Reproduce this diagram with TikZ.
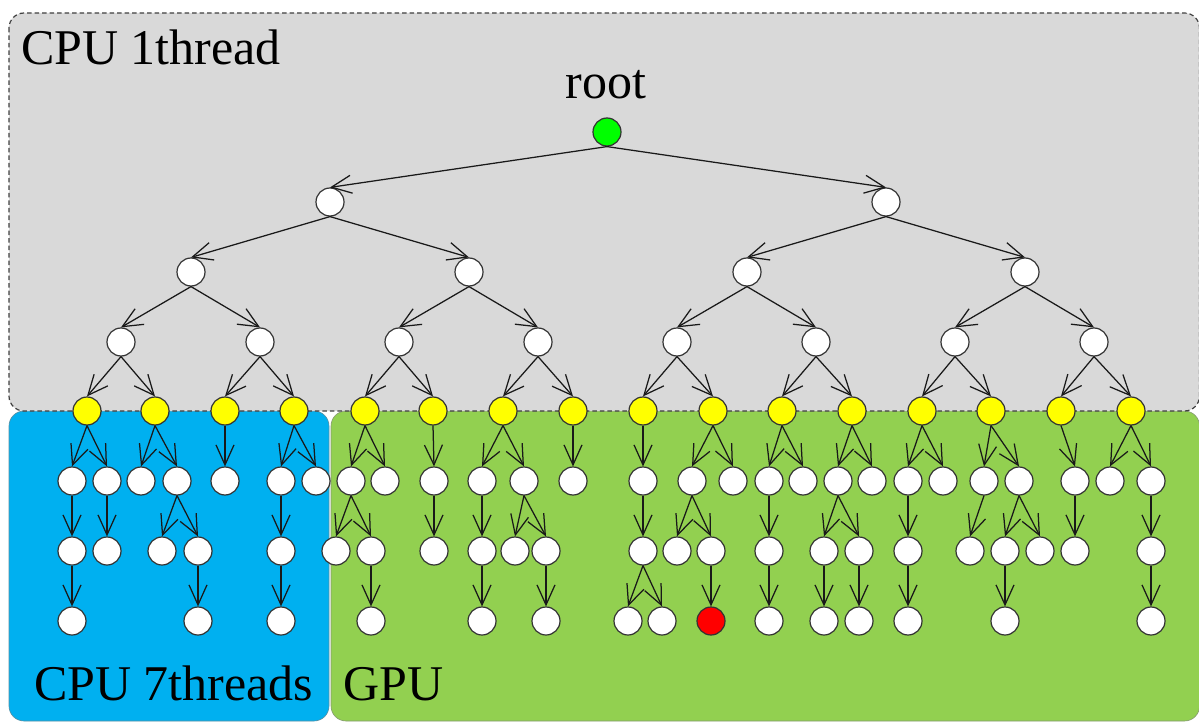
\documentclass[tikz,border=0pt]{standalone}
\usepackage{fontspec}
\setmainfont{Liberation Serif}
\usetikzlibrary{arrows.meta}
\definecolor{panelgray}{HTML}{D9D9D9}
\definecolor{cpublue}{HTML}{00B0F0}
\definecolor{gpugreen}{HTML}{92D050}
\definecolor{rootgreen}{HTML}{00FF00}
\definecolor{leafyellow}{HTML}{FFFF00}
\definecolor{hitred}{HTML}{FF0000}
\definecolor{rim}{HTML}{333333}
\tikzset{
  nd/.style={circle, draw=rim, line width=1.2pt, fill=white, minimum size=28pt, inner sep=0pt},
  yel/.style={nd, fill=leafyellow},
  edge/.style={draw=black!90, line width=1.25pt, -{Straight Barb[length=20pt,width=18pt,line width=1.25pt]}},
  lbl/.style={font=\fontsize{50}{50}\selectfont, inner sep=0pt, text=black},
  panel/.style={rounded corners=15pt}
}
\begin{document}
\begin{tikzpicture}[x=1pt,y=-1pt]
\useasboundingbox (0,0) rectangle (1199,722);

% work regions
\fill[panel, cpublue, draw=gray!70!cpublue, line width=0.6pt] (9,411) rectangle (329,721);
\fill[panel, gpugreen, draw=gray!70!gpugreen, line width=0.6pt] (331,411) rectangle (1199.5,721);
\filldraw[panel, fill=panelgray, draw=black!75, dash pattern=on 4.5pt off 3pt, line width=1.2pt] (9,13) rectangle (1199.5,411);

% region titles
\node[lbl, anchor=base west] (t1) at (21,65) {CPU 1thread};
\node[lbl, anchor=base west] (t2) at (34,700) {CPU 7threads};
\node[lbl, anchor=base west] (t3) at (343,700) {GPU};
\node[lbl, anchor=base] (troot) at (606,99) {root};

% upper levels of the tree
\node[nd, fill=rootgreen] (r) at (607,132) {};
\node[nd] (p1) at (330,202) {};
\node[nd] (p2) at (886,202) {};
\draw[edge] (r.south) -- (p1.north);
\draw[edge] (r.south) -- (p2.north);

\foreach \n/\x/\p in {q1/191/p1, q2/469/p1, q3/747/p2, q4/1025/p2} {
  \node[nd] (\n) at (\x,272) {};
  \draw[edge] (\p.south) -- (\n.north);
}
\foreach \n/\x/\p in {s1/121/q1, s2/260/q1, s3/399/q2, s4/538/q2,
                      s5/677/q3, s6/816/q3, s7/955/q4, s8/1094/q4} {
  \node[nd] (\n) at (\x,342) {};
  \draw[edge] (\p.south) -- (\n.north);
}
\foreach \n/\x/\p in {y0/87/s1, y1/155/s1, y2/225/s2, y3/294/s2,
                      y4/365/s3, y5/433/s3, y6/503/s4, y7/573/s4,
                      y8/643/s5, y9/713/s5, y10/782/s6, y11/852/s6,
                      y12/922/s7, y13/991/s7, y14/1061/s8, y15/1131/s8} {
  \node[yel] (\n) at (\x,411) {};
  \draw[edge] (\p.south) -- (\n.north);
}

% parallel part of the search
\foreach \n/\x/\p in {a1/72/y0, a2/107/y0, a3/141/y1, a4/177/y1, a5/225/y2,
                      a6/281/y3, a7/316/y3, a8/351/y4, a9/385/y4, a10/434/y5,
                      a11/482/y6, a12/524/y6, a13/573/y7, a14/643/y8,
                      a15/692/y9, a16/733/y9, a17/769/y10, a18/803/y10,
                      a19/838/y11, a20/872/y11, a21/908/y12, a22/943/y12,
                      a23/984/y13, a24/1019/y13, a25/1075/y14,
                      a26/1110/y15, a27/1151/y15} {
  \node[nd] (\n) at (\x,481) {};
  \draw[edge] (\p.south) -- (\n.north);
}
\foreach \n/\x/\p in {b1/72/a1, b2/107/a2, b3/162/a4, b4/198/a4, b5/281/a6,
                      b6/336/a8, b7/371/a8, b8/434/a10, b9/482/a11,
                      b10/515/a12, b11/546/a12, b12/643/a14, b13/677/a15,
                      b14/711/a15, b15/769/a17, b16/824/a19, b17/859/a19,
                      b18/908/a21, b19/970/a23, b20/1005/a24, b21/1040/a24,
                      b22/1075/a25, b23/1151/a27} {
  \node[nd] (\n) at (\x,551) {};
  \draw[edge] (\p.south) -- (\n.north);
}
\foreach \n/\x/\p in {c1/72/b1, c2/198/b4, c3/281/b5, c4/371/b7, c5/482/b9,
                      c6/546/b11, c7/628/b12, c8/662/b12, c10/769/b15,
                      c11/824/b16, c12/859/b17, c13/908/b18, c14/1005/b20,
                      c15/1151/b23} {
  \node[nd] (\n) at (\x,621) {};
  \draw[edge] (\p.south) -- (\n.north);
}
\node[nd, fill=hitred] (c9) at (711,621) {};
\draw[edge] (b14.south) -- (c9.north);
\end{tikzpicture}
\end{document}
